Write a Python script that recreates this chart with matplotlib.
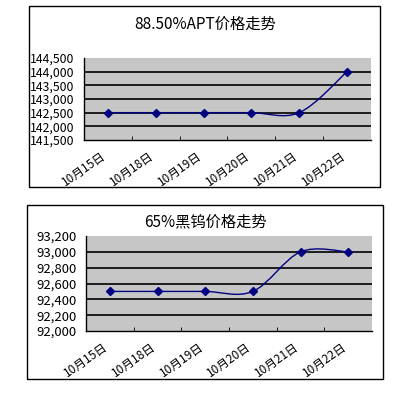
import matplotlib
matplotlib.use("Agg")
import matplotlib.pyplot as plt
from matplotlib.path import Path
from matplotlib.patches import PathPatch, Rectangle
from matplotlib.transforms import ScaledTranslation

plt.rcParams['font.family'] = ['Noto Sans CJK SC', 'DejaVu Sans']

categories = ["10月15日", "10月18日", "10月19日", "10月20日", "10月21日", "10月22日"]
apt_title = "88.50%APT价格走势"
apt_values = [142500, 142500, 142500, 142500, 142500, 144000]
apt_ticks = [141500, 142000, 142500, 143000, 143500, 144000, 144500]
w_title = "65%黑钨价格走势"
w_values = [92500, 92500, 92500, 92500, 93000, 93000]
w_ticks = [92000, 92200, 92400, 92600, 92800, 93000, 93200]

W, H = 393, 395
fig = plt.figure(figsize=(W / 100, H / 100), dpi=100)
fig.patch.set_facecolor('white')

LINE = '#000080'
BG = '#c6c6c6'


def smooth_path(xs, ys):
    n = len(xs)
    verts = [(xs[0], ys[0])]
    codes = [Path.MOVETO]
    for i in range(n - 1):
        x0, y0 = xs[i], ys[i]
        x1, y1 = xs[i + 1], ys[i + 1]
        xp, yp = (xs[i - 1], ys[i - 1]) if i > 0 else (x0, y0)
        xn, yn = (xs[i + 2], ys[i + 2]) if i + 2 < n else (x1, y1)
        c1 = (x0 + (x1 - xp) / 6, y0 + (y1 - yp) / 6)
        c2 = (x1 - (xn - x0) / 6, y1 - (yn - y0) / 6)
        verts += [c1, c2, (x1, y1)]
        codes += [Path.CURVE4] * 3
    return Path(verts, codes)


def panel(px, frame, title, title_xy, values, ticks, yfs):
    l, t, r, b = px
    ax = fig.add_axes([l / W, 1 - b / H, (r - l) / W, (b - t) / H])
    ax.set_facecolor(BG)
    xs = list(range(len(values)))
    ax.add_patch(PathPatch(smooth_path(xs, values), fill=False,
                           edgecolor=LINE, lw=1.0, zorder=3))
    ax.plot(xs, values, linestyle='none', marker='D', markersize=4.5,
            color=LINE, zorder=4)
    ax.set_xlim(-0.5, len(values) - 0.5)
    ax.set_ylim(ticks[0], ticks[-1])
    ax.set_yticks(ticks)
    ax.set_yticklabels([f"{v:,}" for v in ticks], fontsize=yfs)
    for v in ticks[1:-1]:
        ax.axhline(v, color='black', lw=1.2, zorder=2)
    ax.tick_params(axis='y', length=0, pad=7)
    ax.set_xticks(xs)
    ax.set_xticklabels(categories, fontsize=8.5)
    ax.set_xticks([x + 0.5 for x in xs[:-1]], minor=True)
    ax.tick_params(axis='x', which='major', length=0, pad=0)
    ax.tick_params(axis='x', which='minor', length=3, direction='in', color='black')
    off = ScaledTranslation(-5 / 72, -7 / 72, fig.dpi_scale_trans)
    for lab in ax.get_xticklabels():
        lab.set_rotation(35)
        lab.set_ha('right')
        lab.set_va('top')
        lab.set_rotation_mode('anchor')
        lab.set_transform(lab.get_transform() + off)
    for s in ['top', 'right']:
        ax.spines[s].set_visible(False)
    for s in ['left', 'bottom']:
        ax.spines[s].set_color('black')
        ax.spines[s].set_linewidth(1.0)
    fx0, fy0, fx1, fy1 = frame
    fig.patches.append(Rectangle((fx0 / W, 1 - fy1 / H), (fx1 - fx0) / W, (fy1 - fy0) / H,
                                 transform=fig.transFigure, fill=False,
                                 edgecolor='black', lw=1.0))
    fig.text(title_xy[0] / W, 1 - title_xy[1] / H, title, fontsize=11,
             ha='center', va='center')
    return ax


panel((84, 58, 371, 140), (29, 6, 380, 187), apt_title, (205, 24), apt_values, apt_ticks, 8.8)
panel((86, 236, 372, 331), (27, 205, 383, 379), w_title, (205, 222), w_values, w_ticks, 9.5)

fig.savefig('out.png', dpi=100, facecolor='white')
